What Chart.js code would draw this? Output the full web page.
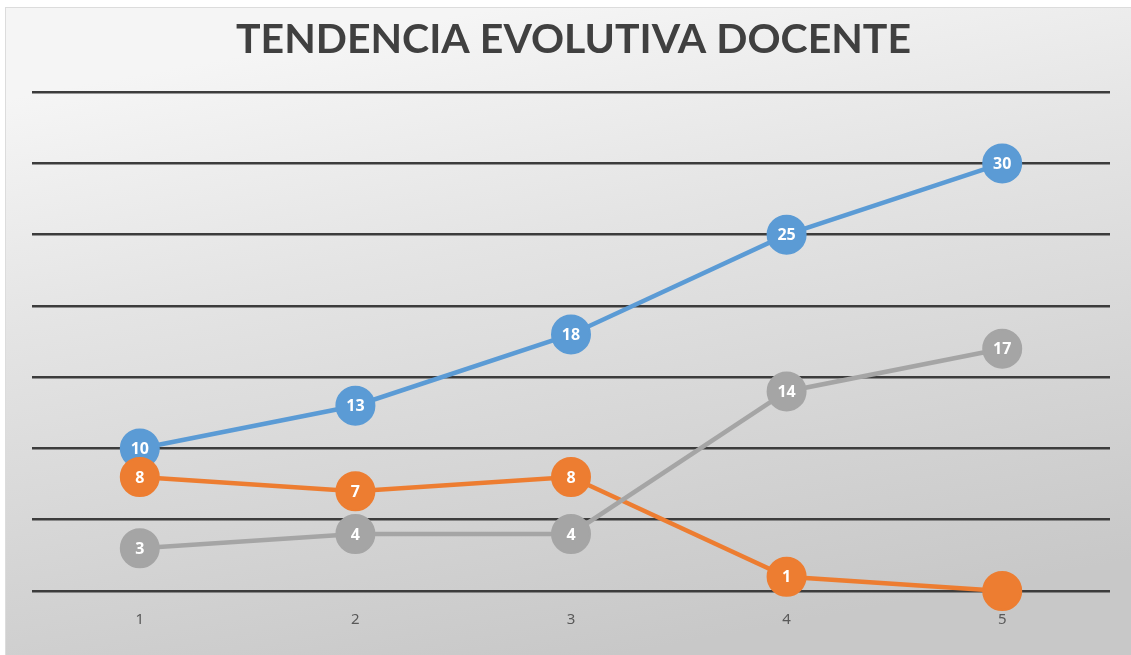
<!DOCTYPE html>
<html>
<head>
<meta charset="utf-8">
<script src="https://cdn.jsdelivr.net/npm/chart.js@4.4.1/dist/chart.umd.min.js"></script>
<style>
html,body{margin:0;padding:0;background:#ffffff;}
#wrap{width:1131px;height:655px;position:relative;}
</style>
</head>
<body>
<div id="wrap"><canvas id="c" width="1131" height="655"></canvas></div>
<script>
const categories = ['1','2','3','4','5'];
const serie1 = [10, 13, 18, 25, 30];
const serie2 = [8, 7, 8, 1, 0];
const serie3 = [3, 4, 4, 14, 17];
const serie2Labels = ['8','7','8','1',''];
const yTicks = [0, 5, 10, 15, 20, 25, 30, 35];
const chartTitle = 'TENDENCIA EVOLUTIVA DOCENTE';

const bgPlugin = {
  id: 'bg',
  beforeDraw(chart) {
    const ctx = chart.ctx;
    ctx.save();
    const g = ctx.createLinearGradient(500, 7, 620, 655);
    g.addColorStop(0, '#f5f5f5');
    g.addColorStop(0.35, '#e4e4e4');
    g.addColorStop(1, '#c8c8c8');
    ctx.fillStyle = g;
    ctx.fillRect(5, 7, 1126, 648);
    ctx.strokeStyle = '#dcdcdc';
    ctx.lineWidth = 1;
    ctx.strokeRect(5.5, 7.5, 1130, 652);
    ctx.restore();
  }
};

const labelPlugin = {
  id: 'pointLabels',
  afterDatasetsDraw(chart) {
    const ctx = chart.ctx;
    ctx.save();
    ctx.font = 'bold 16px "Open Sans", sans-serif';
    ctx.fillStyle = '#ffffff';
    ctx.textAlign = 'center';
    ctx.textBaseline = 'middle';
    chart.data.datasets.forEach((ds, i) => {
      const meta = chart.getDatasetMeta(i);
      meta.data.forEach((pt, j) => {
        const txt = ds.pointLabels ? ds.pointLabels[j] : String(ds.data[j]);
        if (txt) ctx.fillText(txt, pt.x, pt.y + 1);
      });
    });
    ctx.restore();
  }
};

function ds(data, color, order, labels) {
  return {
    data: data,
    borderColor: color,
    backgroundColor: color,
    pointBackgroundColor: color,
    pointBorderColor: color,
    pointRadius: 19,
    pointHoverRadius: 19,
    pointBorderWidth: 2,
    borderWidth: 4.5,
    tension: 0,
    order: order,
    pointLabels: labels,
    clip: false
  };
}

new Chart(document.getElementById('c'), {
  type: 'line',
  data: {
    labels: categories,
    datasets: [
      ds(serie1, '#5B9BD5', 3),
      ds(serie2, '#ED7D31', 2, serie2Labels),
      ds(serie3, '#A5A5A5', 1)
    ]
  },
  options: {
    responsive: false,
    animation: false,
    devicePixelRatio: 1,
    layout: { padding: { top: 8, left: 32, right: 16, bottom: 6 } },
    plugins: {
      legend: { display: false },
      tooltip: { enabled: false },
      title: {
        display: true,
        text: chartTitle,
        color: '#404040',
        font: { family: 'Lato, "Open Sans", sans-serif', size: 41, weight: 'bold', lineHeight: 1.2 },
        padding: { top: 7, bottom: 28 }
      }
    },
    scales: {
      x: {
        offset: true,
        grid: { display: false, drawTicks: false },
        border: { display: false },
        ticks: { color: '#595959', font: { family: '"Noto Sans", sans-serif', size: 15 }, padding: 20 }
      },
      y: {
        min: 0,
        max: 35,
        afterBuildTicks(axis) { axis.ticks = yTicks.map(v => ({ value: v })); },
        ticks: { display: false },
        grid: { color: '#3c3c3c', lineWidth: 2.5, drawTicks: false },
        border: { display: false }
      }
    }
  },
  plugins: [bgPlugin, labelPlugin]
});
</script>
</body>
</html>
